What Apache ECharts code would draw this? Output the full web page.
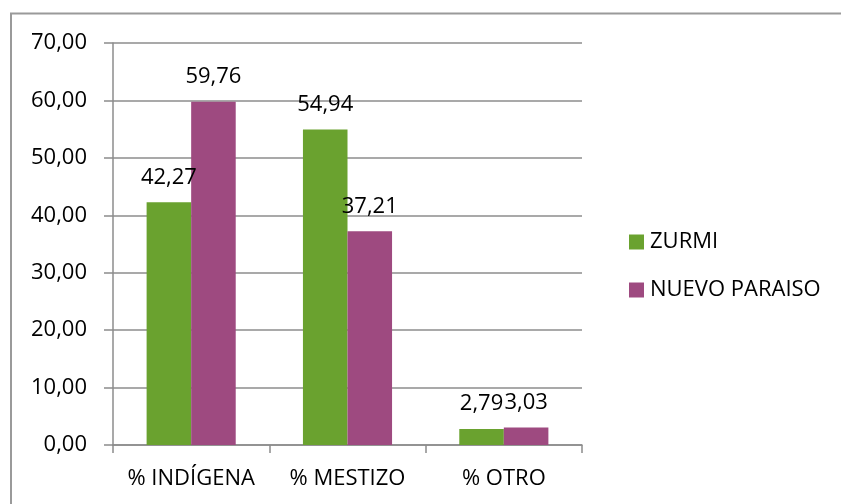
<!DOCTYPE html>
<html>
<head>
<meta charset="utf-8">
<script src="https://cdn.jsdelivr.net/npm/echarts@6/dist/echarts.min.js"></script>
<style>
  html, body { margin: 0; padding: 0; background: #fff; }
  #chart { width: 841px; height: 504px; }
</style>
</head>
<body>
<div id="chart"></div>
<script>
// datos
const categories = ['% INDÍGENA', '% MESTIZO', '% OTRO']
const zurmi = [42.27, 54.94, 2.79]
const nuevoParaiso = [59.76, 37.21, 3.03]
const yTicks = { min: 0, max: 70, interval: 10 }

const fontFamily = '"Open Sans", "Liberation Sans", sans-serif'
const fmt = (v) => (+v).toFixed(2).replace('.', ',')

let myChart = echarts.init(document.getElementById('chart'))
let option = {
  animation: false,
  textStyle: { fontFamily: fontFamily },
  grid: { left: 113, right: 259, top: 43, bottom: 59 },
  legend: {
    orient: 'vertical',
    left: 624,
    top: 226,
    itemWidth: 15,
    itemHeight: 15,
    itemGap: 26,
    icon: 'rect',
    textStyle: { fontSize: 22, color: '#000', fontFamily: fontFamily, padding: [0, 0, 0, 1] },
    data: ['ZURMI', 'NUEVO PARAISO']
  },
  xAxis: {
    type: 'category',
    data: categories,
    axisLine: { lineStyle: { color: '#8c8c8c', width: 1.5 } },
    axisTick: { show: true, length: 8, lineStyle: { color: '#8c8c8c', width: 1.5 } },
    axisLabel: { fontSize: 22, color: '#000', margin: 23, interval: 0 }
  },
  yAxis: {
    type: 'value',
    min: yTicks.min,
    max: yTicks.max,
    interval: yTicks.interval,
    axisLine: { show: true, lineStyle: { color: '#8c8c8c', width: 1.5 } },
    axisTick: { show: true, length: 9, lineStyle: { color: '#8c8c8c', width: 1.5 } },
    splitLine: { show: true, lineStyle: { color: '#8c8c8c', width: 1.5 } },
    axisLabel: { fontSize: 22, color: '#000', margin: 26, formatter: fmt }
  },
  series: [
    {
      name: 'ZURMI',
      type: 'bar',
      data: zurmi,
      barGap: '0%',
      barCategoryGap: '43%',
      itemStyle: { color: '#6aa22f' },
      label: { show: true, position: 'top', distance: 14, fontSize: 22, color: '#000', formatter: (p) => fmt(p.value) }
    },
    {
      name: 'NUEVO PARAISO',
      type: 'bar',
      data: nuevoParaiso,
      itemStyle: { color: '#9e4a80' },
      label: { show: true, position: 'top', distance: 14, fontSize: 22, color: '#000', formatter: (p) => fmt(p.value) }
    }
  ],
  graphic: [
    {
      type: 'rect',
      shape: { x: 11, y: 13.5, width: 900, height: 600 },
      style: { fill: 'none', stroke: '#9a9a9a', lineWidth: 2 },
      silent: true
    }
  ]
}
myChart.setOption(option)
</script>
</body>
</html>
